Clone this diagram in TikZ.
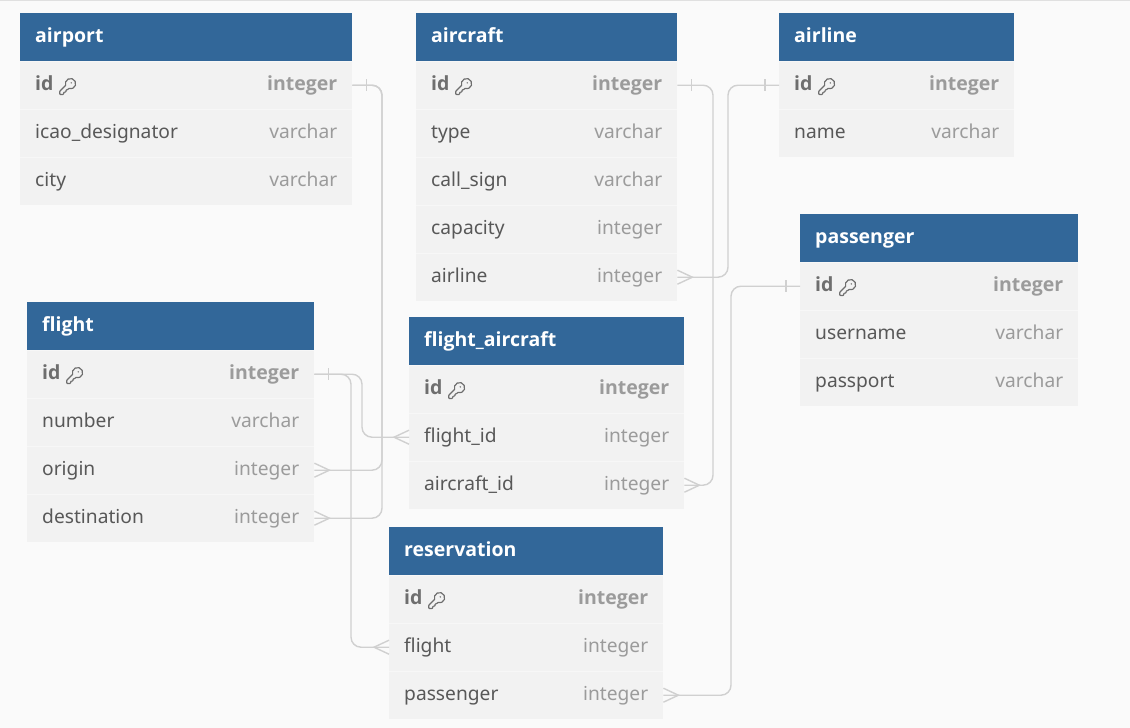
\documentclass[tikz,border=0pt]{standalone}
\usepackage{fontspec}
\setmainfont{Noto Sans}
\newfontfamily\boldfam{Open Sans}
\usetikzlibrary{calc}
\definecolor{hdrcol}{RGB}{50,103,153}
\definecolor{bodycol}{RGB}{242,242,242}
\definecolor{sepcol}{RGB}{247,247,247}
\definecolor{namecol}{RGB}{88,88,88}
\definecolor{typecol}{RGB}{155,155,155}
\definecolor{idcol}{RGB}{110,110,110}
\definecolor{conncol}{RGB}{208,208,208}
\definecolor{bgcol}{RGB}{250,250,250}
\tikzset{
  hdr/.style={draw=none,fill=hdrcol,minimum height=48pt,inner sep=0pt,anchor=north west},
  rowbox/.style={draw=none,fill=bodycol,minimum height=48pt,inner sep=0pt,anchor=north west},
  htxt/.style={text=white,font=\fontsize{19.5}{23}\selectfont\boldfam\bfseries,inner sep=0pt},
  fname/.style={text=namecol,font=\fontsize{19.2}{23}\selectfont,inner sep=0pt},
  fnamet/.style={text=typecol,font=\fontsize{19.2}{23}\selectfont,inner sep=0pt},
  idname/.style={text=idcol,font=\fontsize{19.5}{23}\selectfont\boldfam\bfseries,inner sep=0pt},
  idnamet/.style={text=typecol,font=\fontsize{19.5}{23}\selectfont\boldfam\bfseries,inner sep=0pt},
  conn/.style={draw=conncol,line width=1.4pt,rounded corners=10pt},
  endmark/.style={draw=conncol,line width=1.4pt},
  keyst/.style={draw=idcol,line width=1.2pt,line cap=round,line join=round},
}
% header: name, x, y, width, title
\newcommand\erhead[5]{%
  \node[hdr,minimum width=#4pt] (#1) at (#2,#3) {};
  \node[htxt,anchor=base west] (#1-title) at ($(#1.west)+(15,5)$) {#5};
  \draw[white!70!hdrcol,line width=0.8pt] (#1.south west) -- (#1.south east);
}
% row: name, x, y, width, field, type, style
\newcommand\errow[7]{%
  \node[rowbox,minimum width=#4pt] (#1) at (#2,#3) {};
  \draw[sepcol,line width=0.8pt] (#1.north west) -- (#1.north east);
  \node[#7,anchor=base west] (#1-n) at ($(#1.west)+(15,5.5)$) {#5};
  \node[#7t,anchor=base east] (#1-t) at ($(#1.east)+(-15,5.5)$) {#6};
}
% key icon (key-round outline) after the id text
\newcommand\keyicon[1]{%
  \begin{scope}[shift={($(#1-n.base east)+(4.4,-13.8)$)},x=0.8pt,y=-0.8pt]
    \draw[keyst] (2.6,17.4) -- (2,18.8) -- (2,21) -- (3,22) -- (6,22) -- (7,21)
      -- (7,20) -- (8,19) -- (9,19) -- (10,18) -- (10,17) -- (11,16) -- (11.2,16)
      -- (12.6,15.4) -- (13.4,14.6)
      arc[start angle=250.8,end angle=559.2,radius=5.2pt] -- cycle;
    \fill[idcol] (16.5,7.5) circle (0.8pt);
  \end{scope}
}
% one-mark: anchor, dir
\newcommand\onemark[2]{%
  \draw[endmark] ($(#1)+(#2*14,-6)$) -- ($(#1)+(#2*14,6)$);
}
% crow's foot: anchor, dir
\newcommand\crow[2]{%
  \draw[endmark] ($(#1)+(0,-7)$) -- ($(#1)+(#2*15,0)$) -- ($(#1)+(0,7)$);
}
\begin{document}
\begin{tikzpicture}[x=1pt,y=-1pt]
\fill[bgcol] (0,0) rectangle (1130,728);
\useasboundingbox (0,0) rectangle (1130,728);
\draw[black!12,line width=1pt] (0,0.5) -- (1130,0.5);

% airport
\erhead{ap}{20}{13}{332}{airport}
\errow{ap-id}{20}{61}{332}{id}{integer}{idname}
\errow{ap-icao}{20}{109}{332}{icao\_designator}{varchar}{fname}
\errow{ap-city}{20}{157}{332}{city}{varchar}{fname}
\keyicon{ap-id}

% aircraft
\erhead{ac}{416}{13}{261}{aircraft}
\errow{ac-id}{416}{61}{261}{id}{integer}{idname}
\errow{ac-type}{416}{109}{261}{type}{varchar}{fname}
\errow{ac-call}{416}{157}{261}{call\_sign}{varchar}{fname}
\errow{ac-cap}{416}{205}{261}{capacity}{integer}{fname}
\errow{ac-airline}{416}{253}{261}{airline}{integer}{fname}
\keyicon{ac-id}

% airline
\erhead{al}{779}{13}{235}{airline}
\errow{al-id}{779}{61}{235}{id}{integer}{idname}
\errow{al-name}{779}{109}{235}{name}{varchar}{fname}
\keyicon{al-id}

% passenger
\erhead{pa}{800}{214}{278}{passenger}
\errow{pa-id}{800}{262}{278}{id}{integer}{idname}
\errow{pa-user}{800}{310}{278}{username}{varchar}{fname}
\errow{pa-pass}{800}{358}{278}{passport}{varchar}{fname}
\keyicon{pa-id}

% flight
\erhead{fl}{27}{302}{287}{flight}
\errow{fl-id}{27}{350}{287}{id}{integer}{idname}
\errow{fl-number}{27}{398}{287}{number}{varchar}{fname}
\errow{fl-origin}{27}{446}{287}{origin}{integer}{fname}
\errow{fl-dest}{27}{494}{287}{destination}{integer}{fname}
\keyicon{fl-id}

% flight_aircraft
\erhead{fa}{409}{317}{275}{flight\_aircraft}
\errow{fa-id}{409}{365}{275}{id}{integer}{idname}
\errow{fa-flid}{409}{413}{275}{flight\_id}{integer}{fname}
\errow{fa-acid}{409}{461}{275}{aircraft\_id}{integer}{fname}
\keyicon{fa-id}

% reservation
\erhead{rs}{389}{527}{274}{reservation}
\errow{rs-id}{389}{575}{274}{id}{integer}{idname}
\errow{rs-flight}{389}{623}{274}{flight}{integer}{fname}
\errow{rs-pass}{389}{671}{274}{passenger}{integer}{fname}
\keyicon{rs-id}

% connector columns
\coordinate (vA) at (382,0);
\coordinate (vB) at (713,0);
\coordinate (vC) at (728,0);
\coordinate (vD) at (731,0);
\coordinate (vE) at (362,0);
\coordinate (vF) at (351,0);

% airport.id -> flight.origin / flight.destination
\draw[conn] (ap-id.east) -| (vA |- fl-origin.east) -- (fl-origin.east);
\draw[conn] (ap-id.east) -| (vA |- fl-dest.east) -- (fl-dest.east);
\onemark{ap-id.east}{1}
\crow{fl-origin.east}{1}
\crow{fl-dest.east}{1}

% aircraft.id -> flight_aircraft.aircraft_id
\draw[conn] (ac-id.east) -| (vB |- fa-acid.east) -- (fa-acid.east);
\onemark{ac-id.east}{1}
\crow{fa-acid.east}{1}

% airline.id -> aircraft.airline
\draw[conn] (al-id.west) -| (vC |- ac-airline.east) -- (ac-airline.east);
\onemark{al-id.west}{-1}
\crow{ac-airline.east}{1}

% passenger.id -> reservation.passenger
\draw[conn] (pa-id.west) -| (vD |- rs-pass.east) -- (rs-pass.east);
\onemark{pa-id.west}{-1}
\crow{rs-pass.east}{1}

% flight.id -> flight_aircraft.flight_id / reservation.flight
\draw[conn] (fl-id.east) -| (vE |- fa-flid.west) -- (fa-flid.west);
\draw[conn] (fl-id.east) -| (vF |- rs-flight.west) -- (rs-flight.west);
\onemark{fl-id.east}{1}
\crow{fa-flid.west}{-1}
\crow{rs-flight.west}{-1}
\end{tikzpicture}
\end{document}
